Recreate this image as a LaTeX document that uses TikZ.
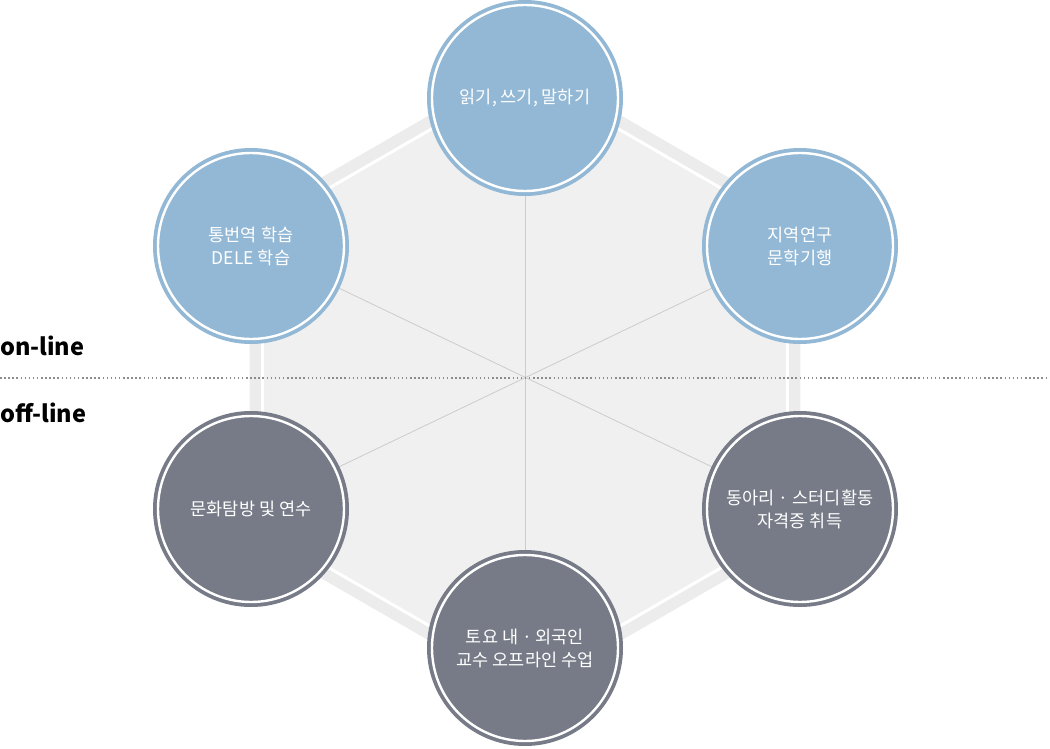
\documentclass[tikz,border=0pt]{standalone}
\usepackage{fontspec}
\setmainfont{Noto Sans CJK KR}
\usetikzlibrary{backgrounds}
\definecolor{onblue}{HTML}{92B8D5}
\definecolor{offgray}{HTML}{767B87}
\definecolor{hexband}{HTML}{ECECEC}
\definecolor{hexfill}{HTML}{F0F0F0}
\definecolor{spokegray}{HTML}{CCCCCC}
\definecolor{dotgray}{HTML}{8C8C8C}

\begin{document}
\begin{tikzpicture}[x=1pt,y=-1pt,
    course/.style={circle,minimum size=186pt,inner sep=0pt,align=center,text=white,
      font=\fontsize{17.5}{23}\selectfont,fill=#1,draw=white,line width=2.4pt,
      preaction={draw=#1,line width=10pt}},
    spoke/.style={spokegray,line width=0.8pt},
    divider/.style={dotgray,line width=1.5pt,dash pattern=on 1.5pt off 2.6pt},
    modelabel/.style={anchor=base west,inner sep=0pt,font=\fontsize{23.5}{28}\selectfont\bfseries}]
    \useasboundingbox (0,0) rectangle (1050,749);

    % Courses
    \node[course=onblue] (read) at (525,98) {읽기, 쓰기, 말하기};
    \node[course=onblue] (interp) at (251,246) {통번역 학습\\DELE 학습};
    \node[course=onblue] (region) at (800,246) {지역연구\\문학기행};
    \node[course=offgray] (culture) at (251,509) {문화탐방 및 연수};
    \node[course=offgray] (club) at (800,509) {동아리 · 스터디활동\\자격증 취득};
    \node[course=offgray] (lecture) at (525,648) {토요 내 · 외국인\\교수 오프라인 수업};

    % Mode labels
    \node[modelabel] (online) at (0,355) {on-line};
    \node[modelabel] (offline) at (0,422) {off-line};
    \coordinate (divL) at (0,378);
    \coordinate (divR) at (1050,378);

    \begin{scope}[on background layer]
      % Hexagon
      \fill[hexband] (525,60) -- (800.4,219) -- (800.4,537) -- (525,696) -- (249.6,537) -- (249.6,219) -- cycle;
      \draw[white,line width=3pt,fill=hexfill] (525,75) -- (787.4,226.5) -- (787.4,529.5) -- (525,681) -- (262.6,529.5) -- (262.6,226.5) -- cycle;

      % Spokes
      \draw[spoke] (read) -- (lecture);
      \draw[spoke] (interp) -- (club);
      \draw[spoke] (region) -- (culture);

      % Divider
      \draw[divider] (divL) -- (divR);
    \end{scope}
\end{tikzpicture}
\end{document}
